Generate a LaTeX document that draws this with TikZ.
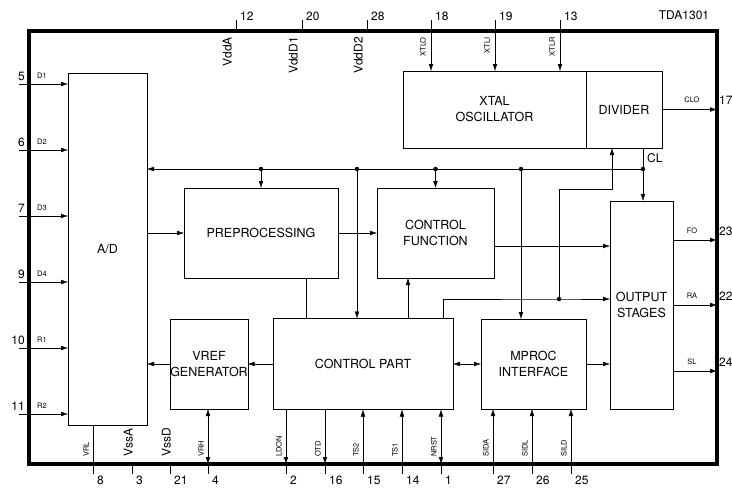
\documentclass[tikz,border=0pt]{standalone}
\usepackage{fontspec}
\setmainfont{TeX Gyre Heros}
\usetikzlibrary{arrows.meta}
\usetikzlibrary{positioning}
\tikzset{>={Latex[length=7pt,width=4.6pt]}, x=1pt, y=-1pt, line width=1.3pt}
\tikzstyle{block} = [draw, rectangle, inner sep=0pt, outer sep=0pt, align=center, font=\fontsize{12.5}{16}\selectfont]
\tikzstyle{junction} = [draw, circle, fill, minimum size=4pt, inner sep=0pt]
\tikzstyle{pinno} = [inner sep=1pt, font=\fontsize{12}{12}\selectfont]
\tikzstyle{sig} = [inner sep=1pt, font=\fontsize{7.5}{8}\selectfont]
\tikzstyle{supply} = [inner sep=1pt, rotate=90, font=\fontsize{12}{12}\selectfont]

\begin{document}
\begin{tikzpicture}
		\useasboundingbox (0,0) rectangle (732,490);
		% package outline
		\node [draw, line width=3.2pt, inner sep=0pt, outer sep=0pt, minimum width=688pt, minimum height=433pt] (chip) at (373,247.5) {};
		\node [font=\fontsize{12}{12}\selectfont] (type) at (684,15) {TDA1301};

		% blocks
		\node [block, minimum width=79pt, minimum height=352pt] (ad) at (107.5,249) {A/D};
		\node [block, minimum width=154pt, minimum height=90pt] (pre) at (261,233) {PREPROCESSING};
		\node [block, minimum width=117pt, minimum height=90pt] (cf) at (435.5,233) {CONTROL\\FUNCTION};
		\node [block, minimum width=183pt, minimum height=77pt] (xtal) at (494.5,109.5) {XTAL\\OSCILLATOR};
		\node [block, minimum width=76pt, minimum height=77pt] (div) at (624,109.5) {DIVIDER};
		\node [block, minimum width=63pt, minimum height=208pt] (os) at (641.5,305) {OUTPUT\\STAGES};
		\node [block, minimum width=76pt, minimum height=90pt] (vref) at (209,364) {VREF\\GENERATOR};
		\node [block, minimum width=180pt, minimum height=91pt] (cp) at (363,364) {CONTROL PART};
		\node [block, minimum width=105pt, minimum height=90pt] (mp) at (533.5,364) {MPROC\\INTERFACE};

		% clock bus
		\coordinate (cl) at (643,169);
		\coordinate (bus-cp) at (357,169);
		\coordinate (bus-mp) at (521,169);
		\draw [->] (cl) -- (cl -| ad.east);
		\draw [->] (div.south -| cl) -- (os.north -| cl);
		\node [anchor=west, inner sep=1pt, font=\fontsize{12}{12}\selectfont] (cl-label) at (646,158) {CL};
		\draw [->] (pre.north |- cl) -- (pre.north);
		\draw [->] (cf.north |- cl) -- (cf.north);
		\draw [->] (bus-cp) -- (bus-cp |- cp.north);
		\draw [->] (bus-mp) -- (bus-mp |- mp.north);
		\foreach \j in {cl, bus-cp, bus-mp} \node [junction] (dot-\j) at (\j) {};
		\node [junction] (dot-pre) at (pre.north |- cl) {};
		\node [junction] (dot-cf) at (cf.north |- cl) {};

		% internal paths
		\draw [->] (ad.east |- pre.west) -- (pre.west);
		\draw [->] (pre.east) -- (cf.west);
		\coordinate (pre-cp) at ([xshift=45pt]pre.south);
		\draw (pre-cp) -- (pre-cp |- cp.north);
		\coordinate (cp-cf) at ([xshift=45pt]cp.north);
		\draw [->] (cp-cf) -- (cp-cf |- cf.south);
		\coordinate (cf-os) at ([yshift=-13pt]cf.east);
		\draw [->] (cf-os) -- (cf-os -| os.west);
		\coordinate (cp-os) at ([xshift=80pt]cp.north);
		\coordinate (sync) at (559,299);
		\coordinate (div-in) at (612,189);
		\draw [->] (cp-os) |- (sync) -- (sync -| os.west);
		\draw [->] (sync) |- (div-in) -- (div-in |- div.south);
		\node [junction] (dot-sync) at (sync) {};
		\draw [->] (cp.west) -- (vref.east);
		\draw [->] (vref.west) -- (vref.west -| ad.east);
		\draw [<->] (cp.east) -- (mp.west);
		\draw [->] (mp.east) -- (mp.east -| os.west);

		% left inputs
		\foreach \pin/\sig/\y in {5/D1/84, 6/D2/150, 7/D3/216, 9/D4/282, 10/R1/348, 11/R2/414} {
			\coordinate (in\pin) at (19,\y);
			\draw [->] (in\pin) -- (in\pin -| ad.west);
			\node [pinno, anchor=south east] (no\pin) at (26,\y-2) {\pin};
			\node [sig, anchor=south west] (lbl\pin) at (36,\y-4) {\sig};
		}

		% top pins
		\foreach \pin/\x/\name in {12/236/VddA, 20/302/VddD1, 28/367/VddD2} {
			\coordinate (top\pin) at (\x,20);
			\draw (top\pin) -- (top\pin |- chip.north);
			\node [pinno, anchor=south west] (no\pin) at (\x+3,22) {\pin};
			\node [supply, anchor=south east] (lbl\pin) at (\x-3,36) {\name};
		}
		\foreach \pin/\x/\name in {18/431/XTLO, 19/495/XTLI, 13/560/XTLR} {
			\coordinate (top\pin) at (\x,20);
			\draw [->] (top\pin) -- (top\pin |- xtal.north);
			\node [pinno, anchor=south west] (no\pin) at (\x+3,22) {\pin};
			\node [sig, rotate=90, anchor=south east] (lbl\pin) at (\x-4,36) {\name};
		}

		% right outputs
		\draw [->] (div.east) -- (div.east -| chip.east);
		\node [pinno, anchor=south west] (no17) at (718,106) {17};
		\node [sig, anchor=south] (lbl17) at (692,104) {CLO};
		\foreach \pin/\sig/\y in {23/FO/240, 22/RA/305, 24/SL/371} {
			\coordinate (out\pin) at (os.east |- 0,\y);
			\draw [->] (out\pin) -- (out\pin -| chip.east);
			\node [pinno, anchor=south west] (no\pin) at (718,\y-3) {\pin};
			\node [sig, anchor=south] (lbl\pin) at (692,\y-5) {\sig};
		}

		% bottom pins
		\foreach \pin/\x in {8/93, 3/132, 21/170, 4/208, 2/286, 16/325, 15/363, 14/402, 1/441, 27/493, 26/532, 25/571} {
			\coordinate (bot\pin) at (\x,474);
			\draw (bot\pin) -- (bot\pin |- chip.south);
			\node [pinno, anchor=west] (no\pin) at (\x+3,480) {\pin};
		}
		\draw (bot8) -- (bot8 |- ad.south);
		\draw [<->] (bot4 |- chip.south) -- (bot4 |- vref.south);
		\foreach \pin in {2,16} \draw [->] (bot\pin |- cp.south) -- (bot\pin |- chip.south);
		\foreach \pin in {15,14} \draw [->] (bot\pin |- chip.south) -- (bot\pin |- cp.south);
		\draw [<->] (bot1 |- chip.south) -- (bot1 |- cp.south);
		\foreach \pin in {27,26,25} \draw [->] (bot\pin |- chip.south) -- (bot\pin |- mp.south);
		\foreach \pin/\x/\name in {8/93/VRL, 4/208/VRH, 2/286/LDON, 16/325/OTD, 15/363/TS2, 14/402/TS1, 1/441/NRST, 27/493/SIDA, 26/532/SIDL, 25/571/SILD}
			\node [sig, rotate=90, anchor=south west] (lbl\pin) at (\x-3,458) {\name};
		\node [supply, anchor=south west] (lbl3) at (134,458) {VssA};
		\node [supply, anchor=south west] (lbl21) at (172,458) {VssD};
	\end{tikzpicture}
\end{document}
